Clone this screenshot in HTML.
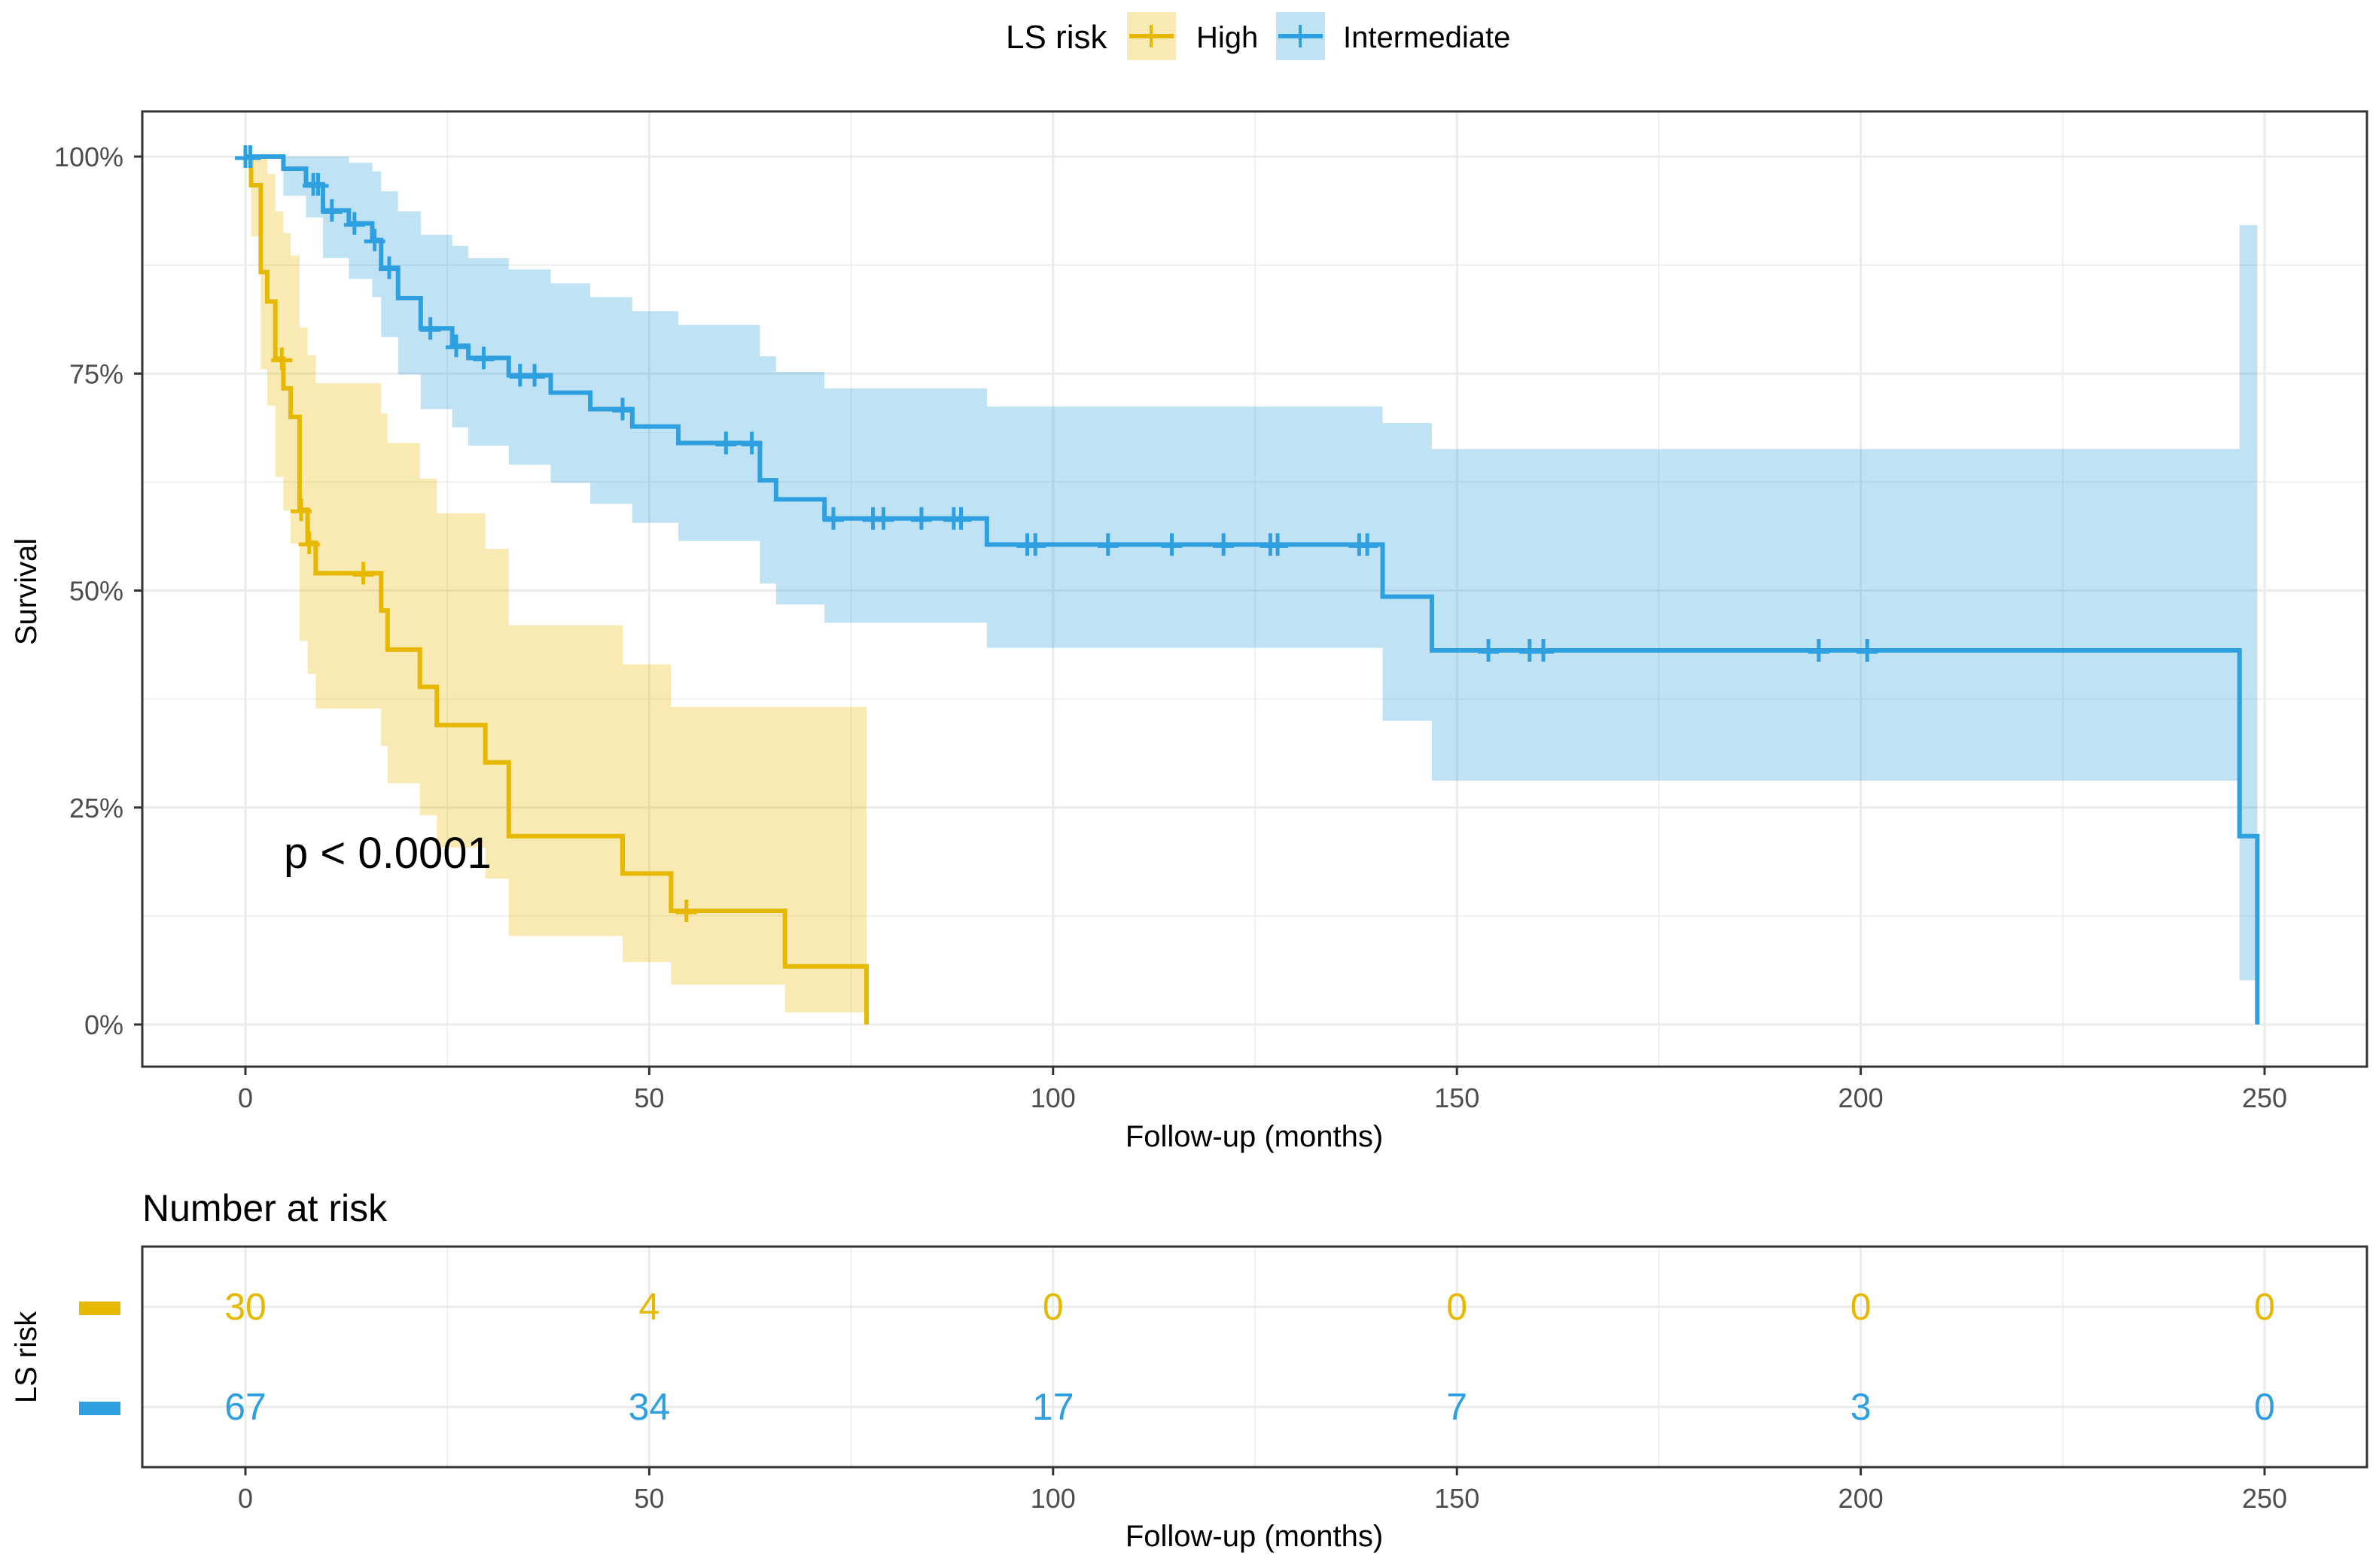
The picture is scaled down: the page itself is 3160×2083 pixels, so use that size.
<!DOCTYPE html>
<html><head><meta charset="utf-8"><style>
html,body{margin:0;padding:0;background:#fff;}
svg{display:block;font-family:"Liberation Sans",Arial,sans-serif;}
</style></head><body>
<svg id="chart" width="3160" height="2083" viewBox="0 0 3160 2083" xmlns="http://www.w3.org/2000/svg">
<g id="legend">
<text x="1336" y="64" font-size="44" fill="#000">LS risk</text>
<g>
<rect x="1497" y="16" width="65" height="64" fill="#E7B800" fill-opacity="0.3"/>
<line x1="1500" y1="48" x2="1559" y2="48" stroke="#E7B800" stroke-width="6"/>
<line x1="1529" y1="33" x2="1529" y2="63" stroke="#E7B800" stroke-width="4"/>
<text x="1589" y="63" font-size="40" fill="#000">High</text></g>
<g>
<rect x="1695" y="16" width="65" height="64" fill="#2E9FDF" fill-opacity="0.3"/>
<line x1="1698" y1="48" x2="1757" y2="48" stroke="#2E9FDF" stroke-width="6"/>
<line x1="1727" y1="33" x2="1727" y2="63" stroke="#2E9FDF" stroke-width="4"/>
<text x="1784" y="63" font-size="40" fill="#000">Intermediate</text></g>
</g>
<g id="grid"></g>
<g id="bands"></g>
<g id="lines"></g>
<g id="censors"></g>
<rect x="189" y="148" width="2955" height="1269" fill="none" stroke="#333" stroke-width="3"/>
<g id="axes"></g>
<text x="377" y="1153" font-size="58" fill="#000">p &lt; 0.0001</text>
<text transform="translate(48,786) rotate(-90)" text-anchor="middle" font-size="40" fill="#000">Survival</text>
<text x="1666" y="1523" text-anchor="middle" font-size="40" fill="#000">Follow-up (months)</text>
<text x="189" y="1622" font-size="50" fill="#000">Number at risk</text>
<g id="risk"></g>
<rect x="189" y="1656" width="2955" height="293" fill="none" stroke="#333" stroke-width="3"/>
<text transform="translate(48,1803) rotate(-90)" text-anchor="middle" font-size="40" fill="#000">LS risk</text>
<rect x="105" y="1729" width="55" height="18" fill="#E7B800"/>
<rect x="105" y="1862" width="55" height="18" fill="#2E9FDF"/>
<text x="1666" y="2054" text-anchor="middle" font-size="40" fill="#000">Follow-up (months)</text>
</svg>
<script>
const xTicks=[0,50,100,150,200,250];
const yTicks=[0,25,50,75,100];
const yTickLabels=["0%","25%","50%","75%","100%"];
// High group
const highTimes=[0,0.7,1.9,2.7,3.7,4.7,5.6,6.7,7.7,8.7,16.8,17.6,21.6,23.7,29.7,32.6,46.7,52.7,66.8,76.9];
const highSurv=[100,96.7,86.7,83.3,76.7,73.3,70.0,59.3,55.5,52.0,47.7,43.2,38.9,34.5,30.2,21.7,17.4,13.1,6.7,0];
const highUpper=[100,100,100,98.0,93.7,91.2,88.6,80.3,77.1,73.9,70.4,67.0,62.9,58.9,54.8,46.0,41.5,36.6,36.6,36.6];
const highLower=[100,90.8,75.5,71.3,63.1,59.2,55.4,44.2,40.4,36.4,32.1,27.8,24.1,20.4,16.8,10.2,7.2,4.6,1.4,1.4];
const highCensor=[4.5,6.9,7.9,14.6,54.6];
// Intermediate group
const intTimes=[0,4.7,7.5,9.6,12.8,15.7,16.8,18.9,21.7,25.6,27.6,32.6,37.8,42.7,47.9,53.6,63.7,65.7,71.7,91.8,140.8,146.9,246.9,249.1];
const intSurv=[100,98.6,96.8,93.8,92.3,90.4,87.2,83.7,80.2,78.2,76.8,74.8,72.8,70.9,68.9,67.0,62.7,60.5,58.3,55.3,49.3,43.1,21.7,0];
const intUpper=[100,100,100,100,99.3,98.3,96.0,93.7,91.0,89.7,88.3,87.0,85.4,83.8,82.2,80.6,77.0,75.2,73.3,71.2,69.3,66.3,92.1,92.1];
const intLower=[100,95.5,93.0,88.3,85.9,83.8,79.2,74.9,70.9,68.8,66.7,64.5,62.4,60.0,57.8,55.7,50.8,48.4,46.3,43.4,35.0,28.1,5.1,5.1];
const intCensor=[0,0.6,8.4,9.0,10.7,13.5,16.0,17.8,22.9,26.1,29.5,34.0,35.8,46.7,59.5,62.7,72.8,77.7,79.0,83.7,87.7,88.6,96.8,97.8,106.8,114.7,121.1,126.9,127.8,137.9,138.9,153.9,159.0,160.7,194.8,200.8];
// risk table
const riskTimes=[0,50,100,150,200,250];
const riskHigh=[30,4,0,0,0,0];
const riskInt=[67,34,17,7,3,0];

const NS="http://www.w3.org/2000/svg";
const X0=326,X250=3008,Y0=1361,Y100=208;
const sx=t=>X0+(X250-X0)*t/250;
const sy=v=>Y0+(Y100-Y0)*v/100;
function mk(tag,attrs,parent){const e=document.createElementNS(NS,tag);for(const k in attrs)e.setAttribute(k,attrs[k]);parent.appendChild(e);return e;}
const grid=document.getElementById('grid');
for(let t=0;t<=275;t+=25){const x=sx(t);if(x<189||x>3144)continue;
 const major=t%50===0;
 const l=mk('line',{x1:x,x2:x,y1:148,y2:1417,stroke:'#EBEBEB','stroke-width':major?3:1.5},grid);
 
 
 const l2=mk('line',{x1:x,x2:x,y1:1656,y2:1949,stroke:'#EBEBEB','stroke-width':major?3:1.5},grid);
 
 }
for(let v=0;v<=100;v+=12.5){const y=sy(v);const major=v%25===0;
 const l=mk('line',{x1:189,x2:3144,y1:y,y2:y,stroke:'#EBEBEB','stroke-width':major?3:1.5},grid);
 
 }
[1736,1869].forEach(y=>{const l=mk('line',{x1:189,x2:3144,y1:y,y2:y,stroke:'#EBEBEB','stroke-width':3},grid);
 
 });

function stepPath(ts,vs){let d='M'+sx(ts[0])+','+sy(vs[0]);for(let i=1;i<ts.length;i++){d+=' H'+sx(ts[i])+' V'+sy(vs[i]);}return d;}
function bandPath(ts,up,lo){const n=ts.length;let d='M'+sx(ts[0])+','+sy(up[0]);for(let i=1;i<n;i++){d+=' H'+sx(ts[i])+' V'+sy(up[i]);}
 d+=' V'+sy(lo[n-1]);
 for(let i=n-1;i>=1;i--){d+=' V'+sy(lo[i-1])+' H'+sx(ts[i-1]);}d+=' Z';return d;}
const bands=document.getElementById('bands'),lines=document.getElementById('lines'),cens=document.getElementById('censors');
const groups=[
 {n:'high',c:'#E7B800',t:highTimes,s:highSurv,u:highUpper,l:highLower,cz:highCensor},
 {n:'intermediate',c:'#2E9FDF',t:intTimes,s:intSurv,u:intUpper,l:intLower,cz:intCensor}];
function survAt(g,t){let v=g.s[0];for(let i=0;i<g.t.length;i++){if(g.t[i]<=t)v=g.s[i];}return v;}
groups.forEach(g=>{
 const b=mk('path',{d:bandPath(g.t,g.u,g.l),fill:g.c,'fill-opacity':0.3},bands);
 
 
 const p=mk('path',{d:stepPath(g.t,g.s),fill:'none',stroke:g.c,'stroke-width':6},lines);
 
 
 g.cz.forEach(t=>{const x=sx(t),y=sy(survAt(g,t));
  const c=mk('path',{d:`M${x-14},${y+2} H${x+14} M${x},${y-15} V${y+15}`,stroke:g.c,'stroke-width':5,fill:'none'},cens);
  
  });
});
const axes=document.getElementById('axes');
xTicks.forEach(t=>{const x=sx(t);
 mk('line',{x1:x,x2:x,y1:1417,y2:1428,stroke:'#333','stroke-width':3},axes);
 const tx=mk('text',{x:x,y:1471,'text-anchor':'middle','font-size':36,fill:'#4D4D4D'},axes);tx.textContent=t;
 
 
 mk('line',{x1:x,x2:x,y1:1949,y2:1960,stroke:'#333','stroke-width':3},axes);
 const t2=mk('text',{x:x,y:2003,'text-anchor':'middle','font-size':36,fill:'#4D4D4D'},axes);t2.textContent=t;
 
 });
yTicks.forEach((v,i)=>{const y=sy(v);
 mk('line',{x1:178,x2:189,y1:y,y2:y,stroke:'#333','stroke-width':3},axes);
 const tx=mk('text',{x:164,y:y+13,'text-anchor':'end','font-size':36,fill:'#4D4D4D'},axes);tx.textContent=yTickLabels[i];
 
 });
const risk=document.getElementById('risk');
riskTimes.forEach((t,i)=>{
 const a=mk('text',{x:sx(t),y:1753,'text-anchor':'middle','font-size':50,fill:'#E7B800'},risk);a.textContent=riskHigh[i];
 
 
 const b=mk('text',{x:sx(t),y:1886,'text-anchor':'middle','font-size':50,fill:'#2E9FDF'},risk);b.textContent=riskInt[i];
 
 });
</script>
</body></html>
